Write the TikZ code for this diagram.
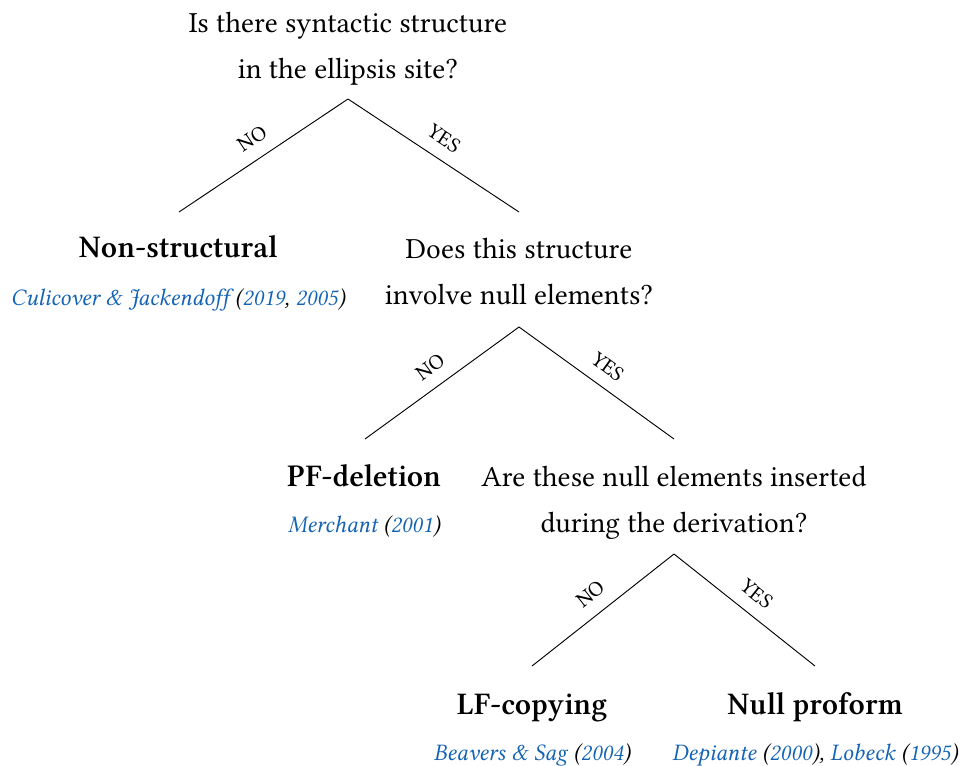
\documentclass[tikz,border=0pt]{standalone}
\usepackage{fontspec}
\setmainfont{Libertinus Serif}
\definecolor{refblue}{RGB}{20,100,180}
\begin{document}
\begin{tikzpicture}[x=0.75pt,y=-0.75pt,
  q/.style={anchor=base,inner sep=0pt,font=\fontsize{21.9}{26}\selectfont},
  res/.style={anchor=base,inner sep=0pt,font=\fontsize{23.6}{28}\selectfont\bfseries},
  cite/.style={anchor=base,inner sep=0pt,font=\fontsize{17.8}{21}\selectfont\itshape},
  lab/.style={inner sep=0pt,font=\fontsize{16}{18}\selectfont,midway,sloped,above=9.5pt},
  leg/.style={draw=black,line width=0.7pt}]
\useasboundingbox (0,0) rectangle (963,765);
% level 1
\node[q] (q1a) at (348,32) {Is there syntactic structure};
\node[q] (q1b) at (348,78) {in the ellipsis site?};
\coordinate (a1) at (348,99);
\coordinate (l1) at (179,212);
\coordinate (r1) at (519,212);
\draw[leg] (l1) -- node[lab] (no1) {NO} (a1);
\draw[leg] (a1) -- node[lab] (yes1) {YES} (r1);
\node[res] (ns) at (178,257) {Non-structural};
\node[cite] (c1) at (178,305) {\textcolor{refblue}{Culicover \& Jackendoff} (\textcolor{refblue}{2019}, \textcolor{refblue}{2005})};
% level 2
\node[q] (q2a) at (519,258) {Does this structure};
\node[q] (q2b) at (519,304) {involve null elements?};
\coordinate (a2) at (519,327);
\coordinate (l2) at (365,439);
\coordinate (r2) at (674,439);
\draw[leg] (l2) -- node[lab] (no2) {NO} (a2);
\draw[leg] (a2) -- node[lab] (yes2) {YES} (r2);
\node[res] (pf) at (364,486) {PF-deletion};
\node[cite] (c2) at (364,532) {\textcolor{refblue}{Merchant} (\textcolor{refblue}{2001})};
% level 3
\node[q] (q3a) at (674,486) {Are these null elements inserted};
\node[q] (q3b) at (674,532) {during the derivation?};
\coordinate (a3) at (674,554);
\coordinate (l3) at (532,666);
\coordinate (r3) at (815,666);
\draw[leg] (l3) -- node[lab] (no3) {NO} (a3);
\draw[leg] (a3) -- node[lab] (yes3) {YES} (r3);
\node[res] (lf) at (532,714) {LF-copying};
\node[cite] (c3) at (532,760) {\textcolor{refblue}{Beavers \& Sag} (\textcolor{refblue}{2004})};
\node[res] (np) at (815,714) {Null proform};
\node[cite] (c4) at (815,760) {\textcolor{refblue}{Depiante} (\textcolor{refblue}{2000}), \textcolor{refblue}{Lobeck} (\textcolor{refblue}{1995})};
\end{tikzpicture}
\end{document}
